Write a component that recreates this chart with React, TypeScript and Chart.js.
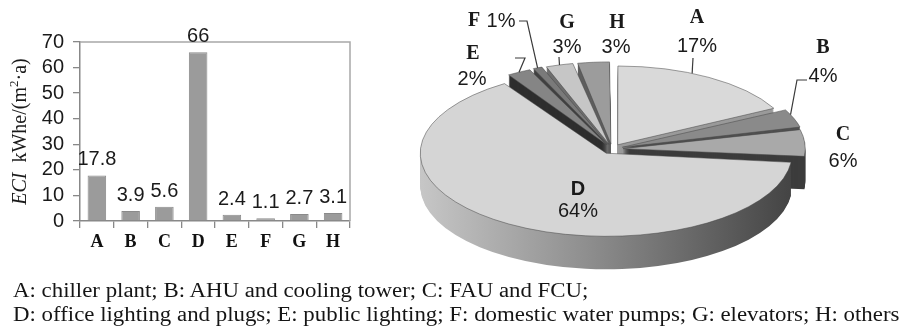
import React, { useEffect, useRef } from 'react';
import { Chart, registerables } from 'chart.js';

Chart.register(...registerables);

// ---------- data ----------
const categories = ['A', 'B', 'C', 'D', 'E', 'F', 'G', 'H'];
const eciValues = [17.8, 3.9, 5.6, 66, 2.4, 1.1, 2.7, 3.1];
const yTickValues = [0, 10, 20, 30, 40, 50, 60, 70];
const pieShareLabels = ['17%', '4%', '6%', '64%', '2%', '1%', '3%', '3%'];
const captionLines = [
  'A: chiller plant; B: AHU and cooling tower; C: FAU and FCU;',
  'D: office lighting and plugs; E: public lighting; F: domestic water pumps; G: elevators; H: others',
];

// ---------- styles / layout ----------
const pieTopColors = ['#d9d9d9', '#8a8a8a', '#a9a9a9', '#d5d5d5', '#858585', '#7a7a7a', '#c6c6c6', '#9c9c9c'];
const pieSideColors = ['#9a9a9a', '#505050', '#3c3c3c', 'GRAD', '#2e2e2e', '#404040', '#6e6e6e', '#5e5e5e'];
const TILT = 0.447;
const DEPTH = 33;
const PIE_RADIUS = 175;

type LabelLayout = {
  letter: [number, number];
  pct: [number, number];
  leader?: [number, number][];
  frac?: number;
  sans?: boolean;
};
const pieLabelLayout: LabelLayout[] = [
  { letter: [697, 18], pct: [697, 46], leader: [[693, 58]], frac: 0.4 },
  { letter: [823, 48], pct: [823, 76], leader: [[807, 80], [797, 80]], frac: 0.3 },
  { letter: [843, 135], pct: [843, 161] },
  { letter: [578, 189], pct: [578, 211], sans: true },
  { letter: [473, 54], pct: [472, 79], leader: [[515, 58], [525, 58]], frac: 0.5 },
  { letter: [474, 21], pct: [501, 21], leader: [[519, 21], [527, 21]], frac: 0.5 },
  { letter: [567, 23], pct: [567, 47], leader: [[559, 57]], frac: 0.5 },
  { letter: [617, 23], pct: [616, 47] },
];

function applyTilt(ctx: CanvasRenderingContext2D, cx: number, cy: number) {
  ctx.translate(cx, cy);
  ctx.scale(1, TILT);
  ctx.translate(-cx, -cy);
}

const pie3dPlugin = {
  id: 'pie3d',
  beforeDatasetDraw(chart: any, args: any) {
    const ctx: CanvasRenderingContext2D = chart.ctx;
    const arcs = args.meta.data;
    if (!arcs.length) return;
    const cx = arcs[0].x;
    const cy = arcs[0].y;
    const R = arcs[0].outerRadius;
    const grad = ctx.createLinearGradient(cx - R - 10, 0, cx + R + 10, 0);
    grad.addColorStop(0, '#c6c6c6');
    grad.addColorStop(0.45, '#8e8e8e');
    grad.addColorStop(1, '#444444');
    for (let d = DEPTH; d >= 1; d--) {
      ctx.save();
      ctx.translate(0, d);
      applyTilt(ctx, cx, cy);
      arcs.forEach((arc: any, i: number) => {
        const orig = arc.options;
        const side = pieSideColors[i] === 'GRAD' ? grad : pieSideColors[i];
        arc.options = Object.assign({}, orig, { backgroundColor: side, borderColor: side, borderWidth: 0 });
        arc.draw(ctx);
        arc.options = orig;
      });
      ctx.restore();
    }
    ctx.save();
    applyTilt(ctx, cx, cy);
  },
  afterDatasetDraw(chart: any) {
    chart.ctx.restore();
  },
  afterDraw(chart: any) {
    const ctx: CanvasRenderingContext2D = chart.ctx;
    const arcs = chart.getDatasetMeta(0).data;
    ctx.save();
    ctx.textAlign = 'center';
    ctx.textBaseline = 'middle';
    arcs.forEach((arc: any, i: number) => {
      const lay = pieLabelLayout[i];
      if (lay.leader) {
        const off = (arc.options.offset || 0) / 4;
        const mid = (arc.startAngle + arc.endAngle) / 2;
        const fix = 1 - Math.sin(Math.min(Math.PI, arc.circumference));
        const r = arc.outerRadius + off * fix;
        const a = arc.startAngle + (arc.endAngle - arc.startAngle) * (lay.frac ?? 0.5);
        const ax = arc.x + Math.cos(mid) * off + Math.cos(a) * r;
        const ay = arc.y + (Math.sin(mid) * off + Math.sin(a) * r) * TILT;
        ctx.beginPath();
        ctx.strokeStyle = '#3a3a3a';
        ctx.lineWidth = 1.2;
        lay.leader.forEach((p, k) => (k === 0 ? ctx.moveTo(p[0], p[1]) : ctx.lineTo(p[0], p[1])));
        ctx.lineTo(ax, ay);
        ctx.stroke();
      }
      ctx.fillStyle = '#1a1a1a';
      ctx.font = lay.sans ? 'bold 20px "Liberation Sans", Arial' : 'bold 20px "Liberation Serif", "Times New Roman"';
      ctx.fillText(categories[i], lay.letter[0], lay.letter[1]);
      ctx.font = '20px "Liberation Sans", Arial';
      ctx.fillText(pieShareLabels[i], lay.pct[0], lay.pct[1]);
    });
    ctx.restore();
  },
};

const barDecorPlugin = {
  id: 'barDecor',
  afterDatasetsDraw(chart: any) {
    const ctx: CanvasRenderingContext2D = chart.ctx;
    const area = chart.chartArea;
    // frame (top + right)
    ctx.save();
    ctx.strokeStyle = '#a8a8a8';
    ctx.lineWidth = 1.5;
    ctx.beginPath();
    ctx.moveTo(area.left, area.top);
    ctx.lineTo(area.right, area.top);
    ctx.lineTo(area.right, area.bottom);
    ctx.stroke();
    // value labels
    ctx.fillStyle = '#1a1a1a';
    ctx.font = '20px "Liberation Sans", Arial';
    ctx.textAlign = 'center';
    ctx.textBaseline = 'alphabetic';
    chart.getDatasetMeta(0).data.forEach((bar: any, i: number) => {
      ctx.fillText(String(eciValues[i]), bar.x, bar.y - 10);
    });
    // rotated axis title: ECI kWhe/(m²·a)
    const parts: { t: string; font: string; dy: number }[] = [
      { t: 'ECI', font: 'italic 20px "Liberation Serif"', dy: 0 },
      { t: '  kWhe/(m', font: '20px "Liberation Serif"', dy: 0 },
      { t: '2', font: '13px "Liberation Serif"', dy: -8 },
      { t: '·a)', font: '20px "Liberation Serif"', dy: 0 },
    ];
    let total = 0;
    parts.forEach((p) => {
      ctx.font = p.font;
      total += ctx.measureText(p.t).width;
    });
    ctx.translate(26, (area.top + area.bottom) / 2);
    ctx.rotate(-Math.PI / 2);
    ctx.textAlign = 'left';
    let x = -total / 2;
    parts.forEach((p) => {
      ctx.font = p.font;
      ctx.fillText(p.t, x, p.dy);
      x += ctx.measureText(p.t).width;
    });
    ctx.restore();
  },
};

export default function App() {
  const barRef = useRef<HTMLCanvasElement>(null);
  const pieRef = useRef<HTMLCanvasElement>(null);

  useEffect(() => {
    const barChart = new Chart(barRef.current as HTMLCanvasElement, {
      type: 'bar',
      data: {
        labels: categories,
        datasets: [
          {
            data: eciValues,
            backgroundColor: '#9b9b9b',
            borderColor: '#8a8a8a',
            borderWidth: 1,
            barPercentage: 0.55,
            categoryPercentage: 1,
          },
        ],
      },
      options: {
        responsive: false,
        animation: false,
        events: [],
        layout: { padding: { top: 42, right: 2, left: 0, bottom: 0 } },
        plugins: { legend: { display: false }, tooltip: { enabled: false } },
        scales: {
          x: {
            afterFit(scale: any) {
              scale.height = 39;
            },
            grid: { offset: true, drawOnChartArea: false, drawTicks: true, tickLength: 7, color: '#888', lineWidth: 1.3 },
            border: { display: true, color: '#888', width: 1.5 },
            ticks: { color: '#111', font: { family: '"Liberation Serif", "Times New Roman"', size: 18, weight: 'bold' }, padding: 4 },
          },
          y: {
            min: 0,
            max: 70,
            afterFit(scale: any) {
              scale.width = 80;
            },
            afterBuildTicks(scale: any) {
              scale.ticks = yTickValues.map((v) => ({ value: v }));
            },
            grid: { drawOnChartArea: false, drawTicks: true, tickLength: 7, color: '#888', lineWidth: 1.3 },
            border: { display: true, color: '#888', width: 1.5 },
            ticks: { autoSkip: false, color: '#1a1a1a', font: { family: '"Liberation Sans", Arial', size: 20 }, padding: 9 },
          },
        },
      } as any,
      plugins: [barDecorPlugin],
    });

    const pieChart = new Chart(pieRef.current as HTMLCanvasElement, {
      type: 'pie',
      data: {
        labels: categories,
        datasets: [
          {
            data: eciValues,
            backgroundColor: pieTopColors,
            borderColor: 'rgba(70,70,70,0.7)',
            borderWidth: 1,
            offset: 44,
            radius: PIE_RADIUS,
          } as any,
        ],
      },
      options: {
        responsive: false,
        animation: false,
        events: [],
        layout: { padding: { left: 319, right: 0, top: 0, bottom: 0 } },
        plugins: { legend: { display: false }, tooltip: { enabled: false } },
      } as any,
      plugins: [pie3dPlugin],
    });

    return () => {
      barChart.destroy();
      pieChart.destroy();
    };
  }, []);

  return (
    <div style={{ position: 'absolute', left: 0, top: 0, width: 905, height: 329, background: '#fff', overflow: 'hidden' }}>
      <canvas ref={barRef} width={352} height={260} style={{ position: 'absolute', left: 0, top: 0 }} />
      <canvas ref={pieRef} width={905} height={298} style={{ position: 'absolute', left: 0, top: 0 }} />
      <div
        style={{
          position: 'absolute',
          left: 13,
          top: 278,
          fontFamily: '"Liberation Serif", "Times New Roman", serif',
          fontSize: 20.5,
          lineHeight: '24px',
          color: '#151515',
          whiteSpace: 'nowrap',
          transform: 'scaleX(1.115)',
          transformOrigin: 'left top',
        }}
      >
        {captionLines.map((l) => (
          <div key={l}>{l}</div>
        ))}
      </div>
    </div>
  );
}
